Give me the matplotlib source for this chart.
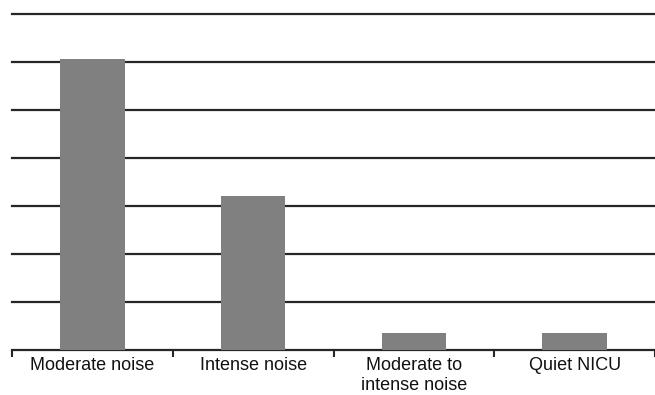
import matplotlib.pyplot as plt
import numpy as np

plt.rcParams['font.family'] = ['Liberation Sans', 'DejaVu Sans']

# share of infants per noise category (%)
categories = ["Moderate noise", "Intense noise", "Moderate to\nintense noise", "Quiet NICU"]
values = [60.7, 32.1, 3.6, 3.6]

fig = plt.figure(figsize=(6.55, 3.95), dpi=100)
ax = fig.add_axes([12 / 655, 1 - 350 / 395, 643 / 655, 336 / 395])

x = np.arange(len(categories))
ax.bar(x, values, width=0.4, color="#808080", zorder=3)

ax.set_xlim(-0.5, len(categories) - 0.5)
ax.set_ylim(0, 70)
ax.set_yticks(np.arange(10, 71, 10))
ax.yaxis.grid(True, color="#262626", linewidth=1.6, zorder=1)
ax.tick_params(axis="y", length=0, labelleft=False)
for gl in ax.yaxis.get_gridlines():
    gl.set_clip_on(False)

# tick marks on category boundaries, labels in between
ax.set_xticks(np.arange(-0.5, len(categories), 1.0))
ax.set_xticklabels([])
ax.set_xticks(x, minor=True)
ax.set_xticklabels(categories, minor=True, fontsize=13, color="#111111")
ax.tick_params(axis="x", which="major", length=5, width=1.5, color="#262626", direction="out")
ax.tick_params(axis="x", which="minor", length=0, pad=5)

for s in ["top", "right", "left"]:
    ax.spines[s].set_visible(False)
ax.spines["bottom"].set_color("#262626")
ax.spines["bottom"].set_linewidth(1.6)
ax.set_axisbelow(True)

fig.savefig("out.png", dpi=100)
